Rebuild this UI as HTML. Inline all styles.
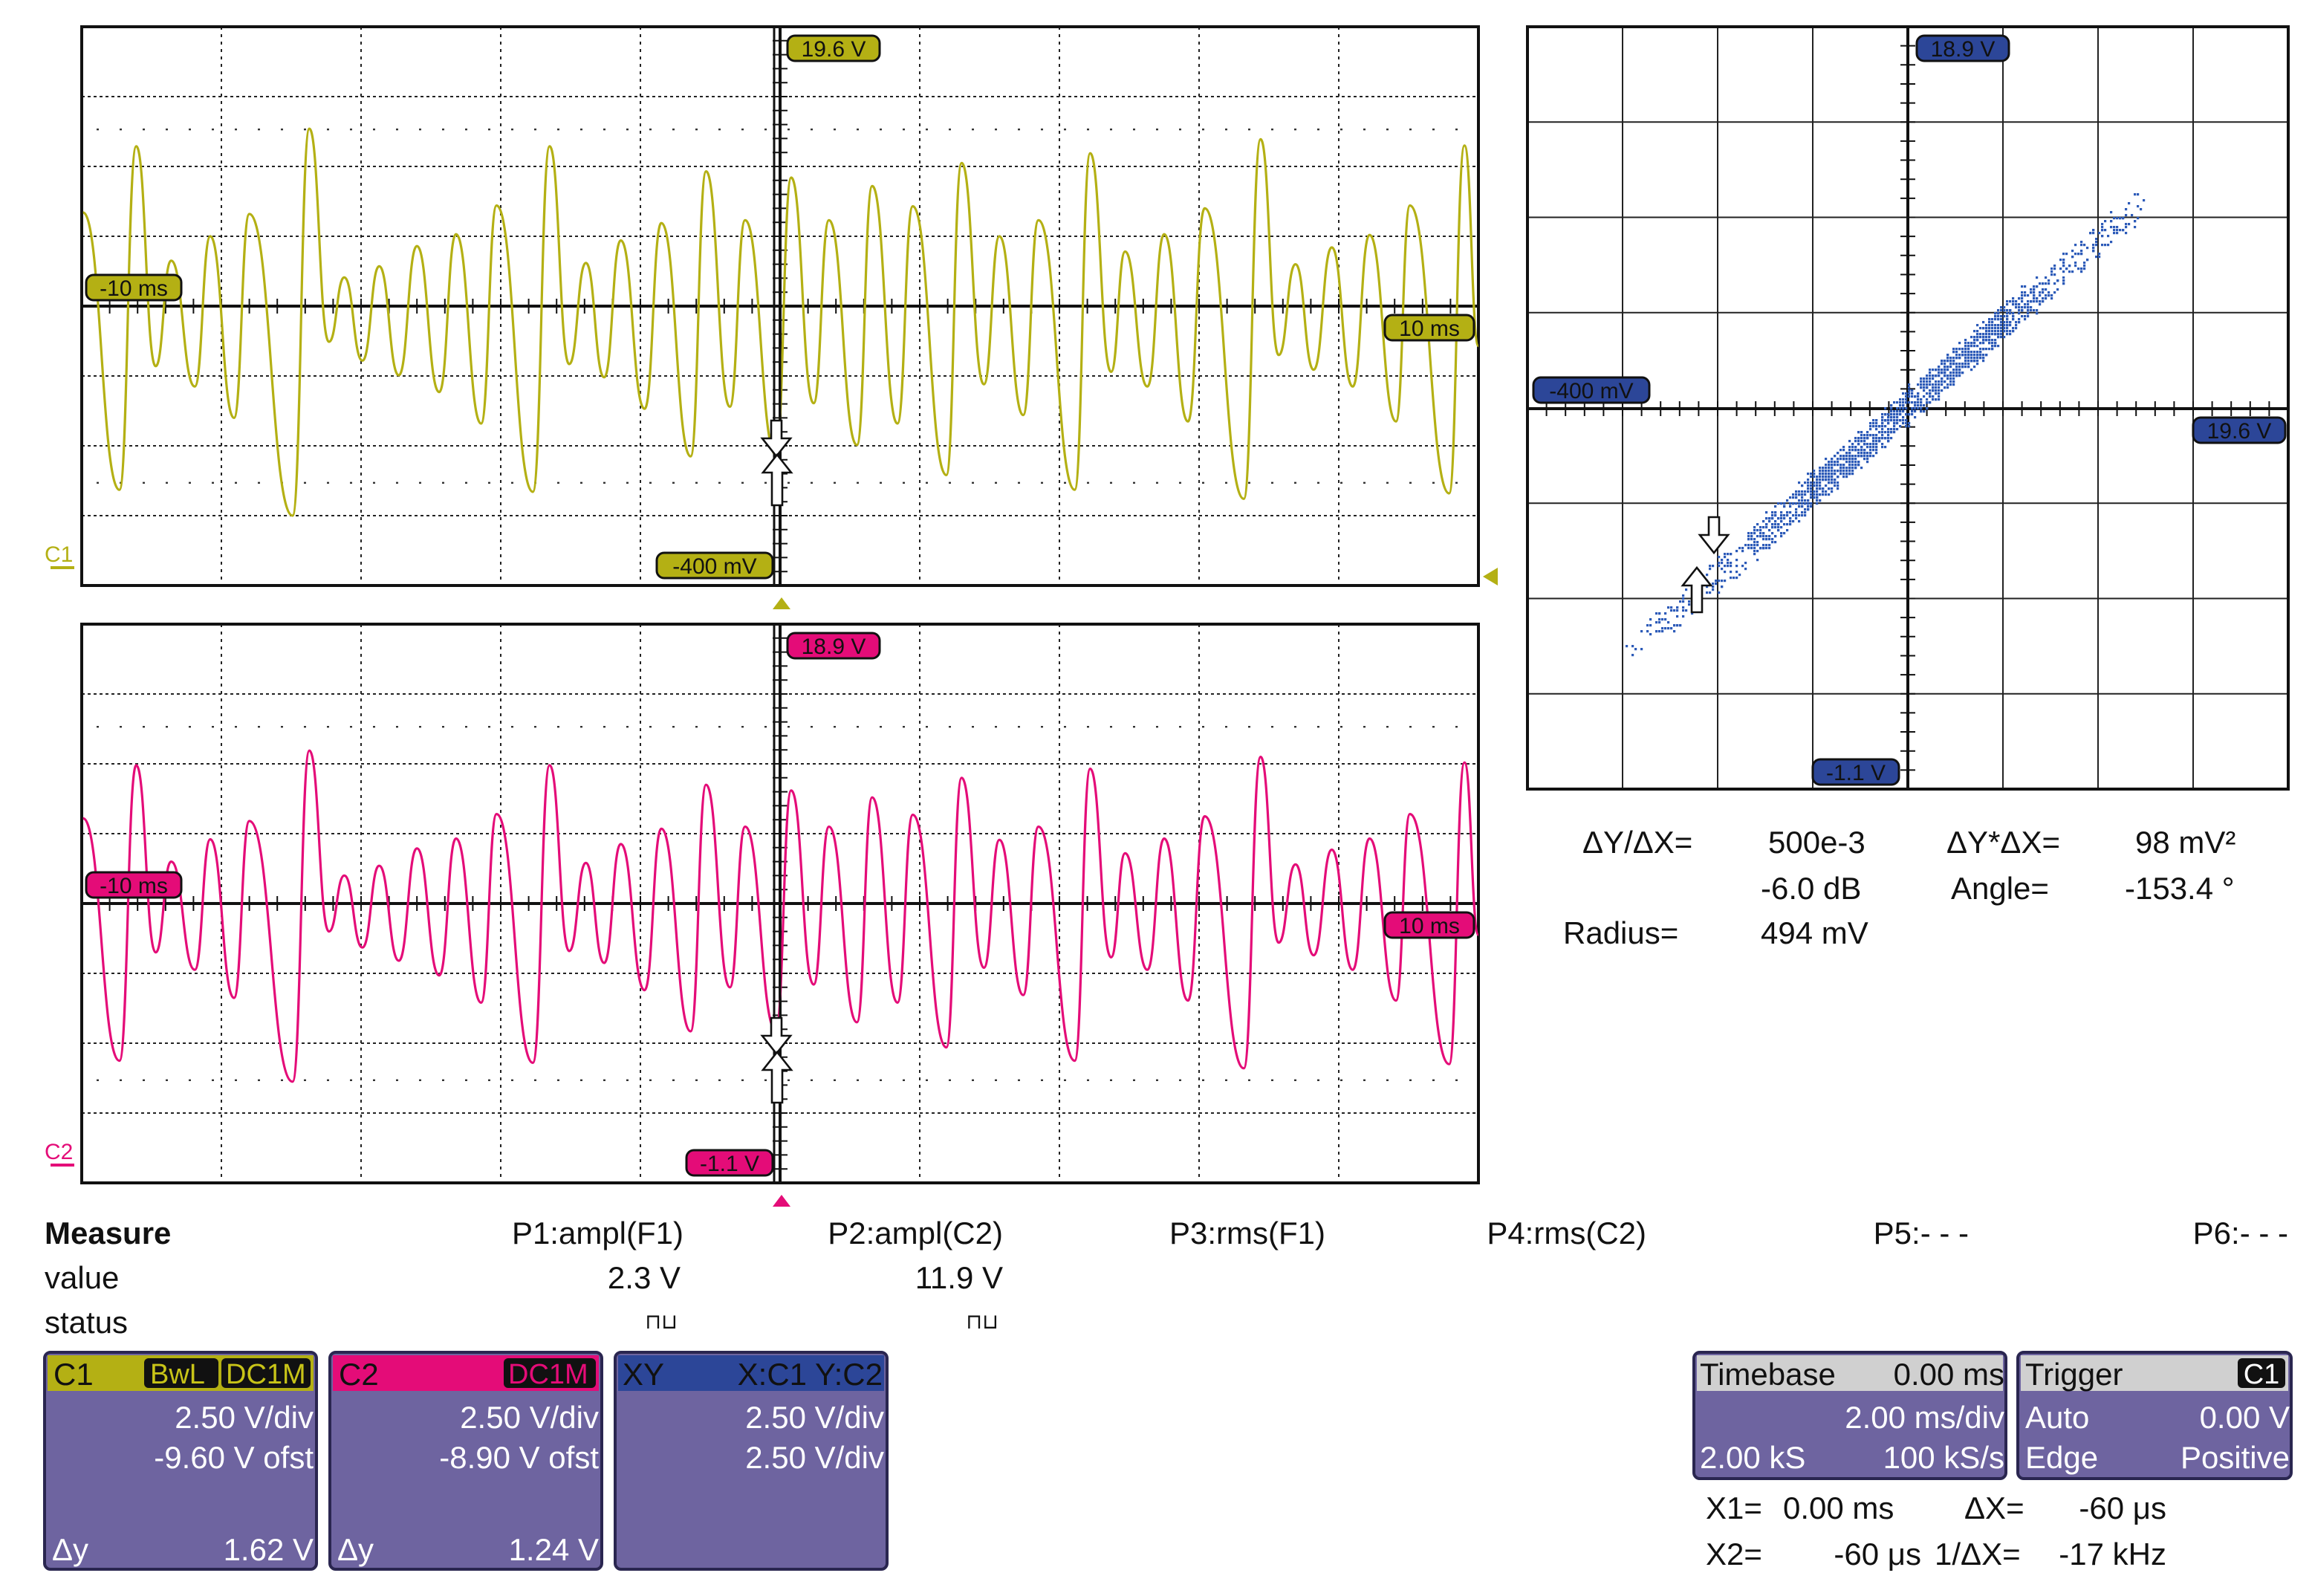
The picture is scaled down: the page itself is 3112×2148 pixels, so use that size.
<!DOCTYPE html>
<html><head><meta charset="utf-8"><style>
html,body{margin:0;padding:0;background:#fff}
svg{display:block}
text{font-family:"Liberation Sans Narrow","Liberation Sans",sans-serif}
</style></head><body>
<svg id="scope" width="3112" height="2148" viewBox="0 0 1556 1074" xmlns="http://www.w3.org/2000/svg">
<rect width="1556" height="1074" fill="#fff"/>
<g id="plots"></g>
<g font-size="21" fill="#111">
<text x="30" y="837" font-weight="bold">Measure</text>
<text x="30" y="867">value</text>
<text x="30" y="897">status</text>
<text x="460" y="837" text-anchor="end">P1:ampl(F1)</text>
<text x="675" y="837" text-anchor="end">P2:ampl(C2)</text>
<text x="892" y="837" text-anchor="end">P3:rms(F1)</text>
<text x="1108" y="837" text-anchor="end">P4:rms(C2)</text>
<text x="1325" y="837" text-anchor="end">P5:- - -</text>
<text x="1540" y="837" text-anchor="end">P6:- - -</text>
<text x="458" y="867" text-anchor="end">2.3 V</text>
<text x="675" y="867" text-anchor="end">11.9 V</text>
<text x="456" y="894" font-size="14" text-anchor="end">⊓⊔</text>
<text x="672" y="894" font-size="14" text-anchor="end">⊓⊔</text>
</g>
<g font-size="21" fill="#111">
<text x="1065" y="574">ΔY/ΔX=</text><text x="1190" y="574">500e-3</text>
<text x="1310" y="574">ΔY*ΔX=</text><text x="1437" y="574">98 mV²</text>
<text x="1185" y="605">-6.0 dB</text><text x="1313" y="605">Angle=</text><text x="1430" y="605">-153.4 °</text>
<text x="1052" y="635">Radius=</text><text x="1185" y="635">494 mV</text>
</g>
<g font-size="21">
<g>
<rect x="30" y="910" width="183" height="146" rx="4" fill="#6e64a0" stroke="#2a2650" stroke-width="2"/>
<rect x="32" y="912" width="179" height="24" fill="#b4b014"/>
<rect x="97" y="914" width="50" height="20" rx="3" fill="#111"/><rect x="149" y="914" width="60" height="20" rx="3" fill="#111"/>
<text x="36" y="932" fill="#111">C1</text><text x="101" y="931" fill="#c8c418" font-size="19">BwL</text><text x="152" y="931" fill="#c8c418" font-size="19">DC1M</text>
<text x="211" y="961" text-anchor="end" fill="#fff">2.50 V/div</text>
<text x="211" y="988" text-anchor="end" fill="#fff">-9.60 V ofst</text>
<text x="35" y="1050" fill="#fff">Δy</text><text x="211" y="1050" text-anchor="end" fill="#fff">1.62 V</text>
</g>
<g>
<rect x="222" y="910" width="183" height="146" rx="4" fill="#6e64a0" stroke="#2a2650" stroke-width="2"/>
<rect x="224" y="912" width="179" height="24" fill="#e40c78"/>
<rect x="339" y="914" width="62" height="20" rx="3" fill="#111"/>
<text x="228" y="932" fill="#111">C2</text><text x="342" y="931" fill="#e40c78" font-size="19">DC1M</text>
<text x="403" y="961" text-anchor="end" fill="#fff">2.50 V/div</text>
<text x="403" y="988" text-anchor="end" fill="#fff">-8.90 V ofst</text>
<text x="227" y="1050" fill="#fff">Δy</text><text x="403" y="1050" text-anchor="end" fill="#fff">1.24 V</text>
</g>
<g>
<rect x="414" y="910" width="183" height="146" rx="4" fill="#6e64a0" stroke="#2a2650" stroke-width="2"/>
<rect x="416" y="912" width="179" height="24" fill="#2c4698"/>
<text x="419" y="932" fill="#111">XY</text><text x="594" y="932" text-anchor="end" fill="#111">X:C1 Y:C2</text>
<text x="595" y="961" text-anchor="end" fill="#fff">2.50 V/div</text>
<text x="595" y="988" text-anchor="end" fill="#fff">2.50 V/div</text>
</g>
<g>
<rect x="1140" y="910" width="210" height="85" rx="4" fill="#6e64a0" stroke="#2a2650" stroke-width="2"/>
<rect x="1142" y="912" width="206" height="24" fill="#d0d0d0"/>
<text x="1144" y="932" fill="#111">Timebase</text><text x="1349" y="932" text-anchor="end" fill="#111">0.00 ms</text>
<text x="1349" y="961" text-anchor="end" fill="#fff">2.00 ms/div</text>
<text x="1144" y="988" fill="#fff">2.00 kS</text><text x="1349" y="988" text-anchor="end" fill="#fff">100 kS/s</text>
</g>
<g>
<rect x="1358" y="910" width="184" height="85" rx="4" fill="#6e64a0" stroke="#2a2650" stroke-width="2"/>
<rect x="1360" y="912" width="180" height="24" fill="#d0d0d0"/>
<rect x="1506" y="914" width="32" height="20" rx="3" fill="#111"/>
<text x="1363" y="932" fill="#111">Trigger</text><text x="1522" y="931" text-anchor="middle" fill="#fff" font-size="19">C1</text>
<text x="1363" y="961" fill="#fff">Auto</text><text x="1541" y="961" text-anchor="end" fill="#fff">0.00 V</text>
<text x="1363" y="988" fill="#fff">Edge</text><text x="1541" y="988" text-anchor="end" fill="#fff">Positive</text>
</g>
</g>
<g font-size="21" fill="#111">
<text x="1148" y="1022">X1=</text><text x="1200" y="1022">0.00 ms</text>
<text x="1322" y="1022">ΔX=</text><text x="1458" y="1022" text-anchor="end">-60 μs</text>
<text x="1148" y="1053">X2=</text><text x="1293" y="1053" text-anchor="end">-60 μs</text>
<text x="1302" y="1053">1/ΔX=</text><text x="1458" y="1053" text-anchor="end">-17 kHz</text>
</g>
</svg>
<script>
// time in divisions (0..10), values in divisions from center
const times = [0.01,0.27,0.39,0.53,0.64,0.81,0.92,1.09,1.20,1.51,1.63,1.77,1.88,2.01,2.13,2.27,2.40,2.56,2.68,2.86,2.97,3.23,3.35,3.49,3.61,3.74,3.86,4.03,4.15,4.36,4.47,4.64,4.75,4.97,5.08,5.24,5.35,5.55,5.66,5.84,5.95,6.19,6.30,6.46,6.57,6.74,6.85,7.11,7.22,7.37,7.47,7.63,7.75,7.92,8.04,8.32,8.44,8.57,8.69,8.82,8.95,9.10,9.22,9.41,9.51,9.79,9.90,10.0];
const c1Values = [1.34,-2.63,2.29,-0.86,0.65,-1.15,1.0,-1.6,1.32,-3.0,2.54,-0.51,0.41,-0.78,0.57,-0.99,0.86,-1.23,1.03,-1.68,1.44,-2.66,2.29,-0.83,0.62,-1.02,0.94,-1.47,1.19,-2.15,1.93,-1.44,1.23,-2.13,1.84,-1.39,1.23,-1.99,1.72,-1.68,1.43,-2.42,2.05,-1.12,1.0,-1.56,1.23,-2.63,2.19,-0.94,0.78,-1.15,1.03,-1.65,1.40,-2.76,2.39,-0.70,0.60,-0.91,0.84,-1.15,1.02,-1.65,1.44,-2.68,2.30,-0.57];
const c2Values = [1.22,-2.25,1.98,-0.70,0.60,-0.95,0.92,-1.35,1.18,-2.55,2.19,-0.40,0.40,-0.63,0.54,-0.82,0.79,-1.03,0.93,-1.42,1.28,-2.28,1.98,-0.68,0.58,-0.85,0.85,-1.24,1.07,-1.83,1.70,-1.20,1.10,-1.82,1.62,-1.16,1.10,-1.70,1.52,-1.42,1.27,-2.06,1.80,-0.92,0.91,-1.31,1.10,-2.25,1.93,-0.77,0.72,-0.95,0.93,-1.39,1.25,-2.36,2.10,-0.56,0.56,-0.74,0.77,-0.95,0.93,-1.39,1.28,-2.30,2.02,-0.45];
const NS='http://www.w3.org/2000/svg';
const root=document.getElementById('plots');
function mk(tag,attrs,parent){const e=document.createElementNS(NS,tag);for(const k in attrs)e.setAttribute(k,attrs[k]);(parent||root).appendChild(e);return e;}
function pill(x,y,w,txt,fill,parent){
  const g=mk('g',{},parent);
  
  
  mk('rect',{x:x,y:y,width:w,height:17,rx:5,fill:fill,stroke:'#111','stroke-width':1.5},g);
  const t=mk('text',{x:x+w/2,y:y+14,'text-anchor':'middle','font-size':15,fill:'#111'},g);t.textContent=txt;
}
function grid(x0,y0,w,h,nx,ny,cx,cy,g,dashed){
  const dx=w/nx,dy=h/ny;
  for(let i=1;i<nx;i++)mk('line',{x1:x0+i*dx,y1:y0,x2:x0+i*dx,y2:y0+h,stroke:'#222','stroke-width':1,'stroke-dasharray':dashed?'2,3':'none'},g);
  for(let j=1;j<ny;j++)mk('line',{x1:x0,y1:y0+j*dy,x2:x0+w,y2:y0+j*dy,stroke:'#222','stroke-width':1,'stroke-dasharray':dashed?'2,2':'none'},g);
  mk('line',{x1:x0,y1:cy,x2:x0+w,y2:cy,stroke:'#111','stroke-width':2},g);
  mk('line',{x1:cx,y1:y0,x2:cx,y2:y0+h,stroke:'#111','stroke-width':2},g);
  for(let i=0;i<=nx*5;i++)mk('line',{x1:x0+i*dx/5,y1:cy-5,x2:x0+i*dx/5,y2:cy+5,stroke:'#111','stroke-width':1},g);
  for(let j=0;j<=ny*5;j++)mk('line',{x1:cx-5,y1:y0+j*dy/5,x2:cx+5,y2:y0+j*dy/5,stroke:'#111','stroke-width':1},g);
  mk('rect',{x:x0,y:y0,width:w,height:h,fill:'none',stroke:'#111','stroke-width':2},g);
}
function smoothPath(xs,ys){
  let d='M'+xs[0].toFixed(1)+' '+ys[0].toFixed(1);
  for(let i=0;i<xs.length-1;i++){
    const m=(xs[i]+xs[i+1])/2;
    d+=` C${m.toFixed(1)} ${ys[i].toFixed(1)} ${m.toFixed(1)} ${ys[i+1].toFixed(1)} ${xs[i+1].toFixed(1)} ${ys[i+1].toFixed(1)}`;
  }
  return d;
}
function wavePanel(name,y0,vals,color,labels){
  const x0=55,w=940,h=376,cy=y0+188;
  const g=mk('g',{});
  
  
  grid(x0,y0,w,h,10,8,x0+470,cy,g,true);
  [-2.53,2.53].forEach(v=>mk('line',{x1:x0+10,y1:cy-v*47,x2:x0+w,y2:cy-v*47,stroke:'#333','stroke-width':1.2,'stroke-dasharray':'1.5,14'},g));
  const xs=t=>x0+t*94, ys=v=>cy-v*47;
  const p=mk('path',{d:smoothPath(times.map(xs),vals.map(ys)),fill:'none',stroke:color,'stroke-width':1.6},g);
  
  
  mk('line',{x1:521,y1:y0,x2:521,y2:y0+h,stroke:'#111','stroke-width':1.5},g);
  mk('line',{x1:525,y1:y0+10,x2:525,y2:y0+h,stroke:'#111','stroke-width':1.5},g);
  mk('path',{d:`M519 ${y0+265} h7 v12 h6 l-9.5 12 l-9.5 -12 h6 z`,fill:'#fff',stroke:'#111','stroke-width':1.3},g);
  mk('path',{d:`M523 ${y0+288} l9.5 12 h-6 v22 h-7 v-22 h-6 z`,fill:'#fff',stroke:'#111','stroke-width':1.3},g);
  pill(530,y0+6,62,labels[0],color,g);
  pill(58,y0+167,64,'-10 ms',color,g);
  pill(932,y0+194,60,'10 ms',color,g);
  pill(labels[2],y0+354,labels[3],labels[1],color,g);
  mk('path',{d:`M520 ${y0+392} l6 -8 l6 8 z`,fill:color},g);
  const ct=mk('text',{x:30,y:y0+360,'font-size':15,fill:color},g);ct.textContent=labels[4];
  mk('line',{x1:34,y1:y0+364,x2:50,y2:y0+364,stroke:color,'stroke-width':2},g);
}
wavePanel('c1-waveform-plot',18,c1Values,'#b4b014',['19.6 V','-400 mV',442,78,'C1']);
mk('path',{d:'M998 388 l10 -6 v12 z',fill:'#b4b014'});
wavePanel('c2-waveform-plot',420,c2Values,'#e40c78',['18.9 V','-1.1 V',462,58,'C2']);
// XY plot
(function(){
  const x0=1028,y0=18,w=512,h=513,cx=1284,cy=275,d=64;
  const g=mk('g',{});
  
  
  grid(x0,y0,w,h,8,8,cx,cy,g,false);
  const pg=mk('g',{fill:'#2c5ab8'},g);
  
  
  const xsv=v=>cx+v*d*0.98, ysv=v=>cy-v*d*1.0;
  for(let i=0;i<times.length-1;i++){
    for(let s=0;s<24;s++){
      const f=(1-Math.cos(Math.PI*s/24))/2;
      const a=c1Values[i]+(c1Values[i+1]-c1Values[i])*f;
      const b=c2Values[i]+(c2Values[i+1]-c2Values[i])*f;
      const j=((i*11+s*7)%13-6)*1.1;
      const k=((i*5+s*3)%7-3)*1.0;
      const px=Math.round((xsv(a)+j*0.75+k)/2)*2, py=Math.round((ysv(b)+j*0.85)/2)*2;
      mk('rect',{x:px,y:py,width:1.6,height:1.6},pg);
    }
  }
  pill(1290,24,62,'18.9 V','#2c4698',g);
  pill(1032,254,78,'-400 mV','#2c4698',g);
  pill(1476,281,62,'19.6 V','#2c4698',g);
  pill(1220,511,58,'-1.1 V','#2c4698',g);
  mk('path',{d:'M1150 348 h7 v12 h6 l-9.5 12 l-9.5 -12 h6 z',fill:'#fff',stroke:'#111','stroke-width':1.3},g);
  mk('path',{d:'M1142 382 l9.5 12 h-6 v18 h-7 v-18 h-6 z',fill:'#fff',stroke:'#111','stroke-width':1.3},g);
})();
</script>
</body></html>
